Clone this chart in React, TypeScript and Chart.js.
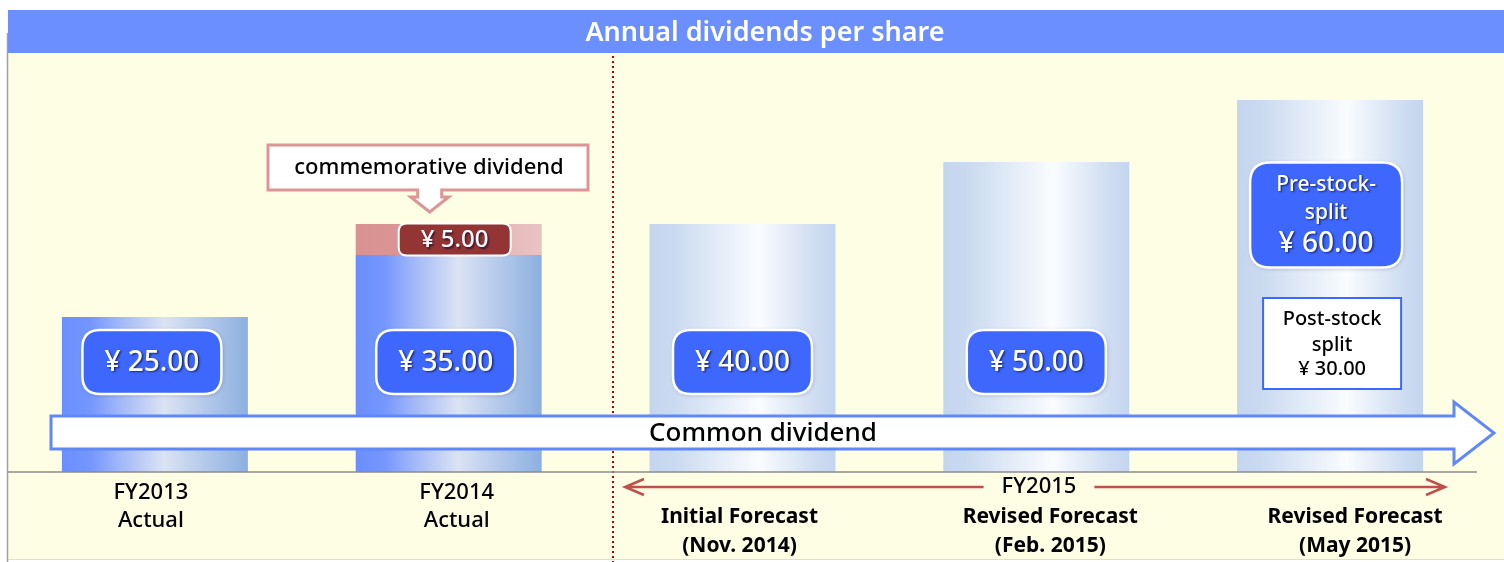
import React, { useEffect, useRef } from "react";
import { Chart, registerables } from "chart.js";

Chart.register(...registerables);

// ---------- data ----------
const categories = [
  "FY2013 Actual",
  "FY2014 Actual",
  "Initial Forecast (Nov. 2014)",
  "Revised Forecast (Feb. 2015)",
  "Revised Forecast (May 2015)",
];
const categoryLines = [
  ["FY2013", "Actual"],
  ["FY2014", "Actual"],
  ["Initial Forecast", "(Nov. 2014)"],
  ["Revised Forecast", "(Feb. 2015)"],
  ["Revised Forecast", "(May 2015)"],
];
const commonDividend = [25, 35, 40, 50, 60];
const commemorativeDividend = [0, 5, 0, 0, 0];
const postSplitDividend = [null, null, null, null, 30];
const isForecast = [false, false, true, true, true];
const chartTitle = "Annual dividends per share";
const arrowLabel = "Common dividend";
const calloutLabel = "commemorative dividend";
const periodLabel = "FY2015";
const preSplitWords = ["Pre-stock-", "split"];
const postSplitWords = ["Post-stock", "split"];

const yen = (v: number) => `¥ ${v.toFixed(2)}`;

// ---------- styles ----------
const FONT = '"Noto Sans", "Open Sans", "DejaVu Sans", sans-serif';
const BAR_PCT = 0.633;
const labelShift = [-4, 8, -3, 14, 25];

function roundRect(ctx: CanvasRenderingContext2D, x: number, y: number, w: number, h: number, r: number) {
  ctx.beginPath();
  ctx.moveTo(x + r, y);
  ctx.lineTo(x + w - r, y);
  ctx.quadraticCurveTo(x + w, y, x + w, y + r);
  ctx.lineTo(x + w, y + h - r);
  ctx.quadraticCurveTo(x + w, y + h, x + w - r, y + h);
  ctx.lineTo(x + r, y + h);
  ctx.quadraticCurveTo(x, y + h, x, y + h - r);
  ctx.lineTo(x, y + r);
  ctx.quadraticCurveTo(x, y, x + r, y);
  ctx.closePath();
}

function text(
  ctx: CanvasRenderingContext2D,
  s: string,
  x: number,
  y: number,
  font: string,
  color: string,
  shadow = false
) {
  ctx.save();
  ctx.font = font;
  ctx.fillStyle = color;
  ctx.textAlign = "center";
  ctx.textBaseline = "middle";
  if (shadow) {
    ctx.shadowColor = "rgba(0,0,40,0.6)";
    ctx.shadowOffsetX = 1.5;
    ctx.shadowOffsetY = 1.5;
    ctx.shadowBlur = 2;
  }
  ctx.fillText(s, x, y);
  ctx.restore();
}

function blueBox(ctx: CanvasRenderingContext2D, cx: number, cy: number, w: number, h: number, r: number) {
  ctx.save();
  ctx.shadowColor = "rgba(0,0,60,0.25)";
  ctx.shadowBlur = 4;
  ctx.shadowOffsetX = 1;
  ctx.shadowOffsetY = 1;
  roundRect(ctx, cx - w / 2, cy - h / 2, w, h, r);
  ctx.fillStyle = "#3e67fd";
  ctx.fill();
  ctx.shadowColor = "transparent";
  ctx.lineWidth = 2.5;
  ctx.strokeStyle = "#ffffff";
  ctx.stroke();
  ctx.restore();
}

function barWidth(chart: any) {
  const xs = chart.scales.x;
  return (xs.width / categories.length) * BAR_PCT;
}

const decorPlugin = {
  id: "decor",
  beforeDraw(chart: any) {
    const ctx: CanvasRenderingContext2D = chart.ctx;
    ctx.save();
    // background panel
    ctx.fillStyle = "#fefee4";
    ctx.fillRect(8, 53, 1496, 506);
    ctx.strokeStyle = "#e0e0d0";
    ctx.lineWidth = 1;
    ctx.beginPath();
    ctx.moveTo(8, 559.5);
    ctx.lineTo(1504, 559.5);
    ctx.stroke();
    // left border
    ctx.strokeStyle = "#a0a0a0";
    ctx.lineWidth = 1.5;
    ctx.beginPath();
    ctx.moveTo(7.5, 33);
    ctx.lineTo(7.5, 562);
    ctx.stroke();
    // title bar
    ctx.fillStyle = "#6b8ffe";
    ctx.fillRect(8, 10, 1496, 43);
    ctx.restore();
    text(ctx, chartTitle, 765, 33, `600 27px ${FONT}`, "#ffffff");
  },
  afterDatasetsDraw(chart: any) {
    const ctx: CanvasRenderingContext2D = chart.ctx;
    const xs = chart.scales.x;
    const ys = chart.scales.y;
    const base = ys.getPixelForValue(0);
    const area = chart.chartArea;

    // red dotted divider
    ctx.save();
    ctx.strokeStyle = "#c00000";
    ctx.lineWidth = 2;
    ctx.setLineDash([2, 3]);
    ctx.beginPath();
    ctx.moveTo(613, 56);
    ctx.lineTo(613, 562);
    ctx.stroke();
    ctx.restore();

    // baseline
    ctx.save();
    ctx.strokeStyle = "#8c8c8c";
    ctx.lineWidth = 1.5;
    ctx.beginPath();
    ctx.moveTo(8, base);
    ctx.lineTo(area.right, base);
    ctx.stroke();
    ctx.restore();

    // common dividend arrow
    ctx.save();
    ctx.beginPath();
    ctx.moveTo(51, 416);
    ctx.lineTo(1454, 416);
    ctx.lineTo(1454, 402);
    ctx.lineTo(1494, 433);
    ctx.lineTo(1454, 464);
    ctx.lineTo(1454, 449);
    ctx.lineTo(51, 449);
    ctx.closePath();
    ctx.fillStyle = "#ffffff";
    ctx.fill();
    ctx.lineWidth = 3;
    ctx.lineJoin = "miter";
    ctx.strokeStyle = "#6088f8";
    ctx.stroke();
    ctx.restore();
    text(ctx, arrowLabel, 763, 434, `500 26px ${FONT}`, "#000000");

    // value labels
    const labelY = 362;
    commonDividend.forEach((v, i) => {
      const cx = xs.getPixelForValue(i);
      if (i === commonDividend.length - 1 && postSplitDividend[i] != null) {
        // pre-stock-split box
        blueBox(ctx, cx - 4, 215, 152, 105, 20);
        text(ctx, preSplitWords[0], cx - 4, 185, `500 21px ${FONT}`, "#ffffff", true);
        text(ctx, preSplitWords[1], cx - 4, 213, `500 21px ${FONT}`, "#ffffff", true);
        text(ctx, yen(v), cx - 4, 244, `500 28px ${FONT}`, "#ffffff", true);
        // post-stock-split box
        ctx.save();
        ctx.fillStyle = "#ffffff";
        ctx.fillRect(cx - 67, 298, 138, 91);
        ctx.strokeStyle = "#3e67fd";
        ctx.lineWidth = 2;
        ctx.strokeRect(cx - 67, 298, 138, 91);
        ctx.restore();
        text(ctx, postSplitWords[0], cx + 2, 319, `500 20px ${FONT}`, "#000000");
        text(ctx, postSplitWords[1], cx + 2, 345, `500 20px ${FONT}`, "#000000");
        text(ctx, yen(postSplitDividend[i] as number), cx + 2, 369, `500 20px ${FONT}`, "#000000");
      } else {
        const bx = cx - (i < 2 ? 3 : 0);
        blueBox(ctx, bx, labelY, 139, 64, 18);
        text(ctx, yen(v), bx, labelY + 1, `500 28px ${FONT}`, "#ffffff", true);
      }
    });

    // commemorative label + callout
    commemorativeDividend.forEach((v, i) => {
      if (!v) return;
      const cx = xs.getPixelForValue(i);
      const top = ys.getPixelForValue(commonDividend[i] + v);
      const mid = ys.getPixelForValue(commonDividend[i] + v / 2);
      ctx.save();
      roundRect(ctx, cx - 50, mid - 16, 112, 32, 8);
      ctx.fillStyle = "#943535";
      ctx.fill();
      ctx.lineWidth = 2;
      ctx.strokeStyle = "#ffffff";
      ctx.stroke();
      ctx.restore();
      text(ctx, yen(v), cx + 6, mid + 1, `500 24px ${FONT}`, "#ffffff", true);

      // callout box with down arrow
      const tipX = cx - 19;
      const tipY = top - 12;
      ctx.save();
      ctx.beginPath();
      ctx.moveTo(268, 145);
      ctx.lineTo(588, 145);
      ctx.lineTo(588, 190);
      ctx.lineTo(tipX + 12, 190);
      ctx.lineTo(tipX + 12, 197);
      ctx.lineTo(tipX + 19, 197);
      ctx.lineTo(tipX, tipY);
      ctx.lineTo(tipX - 19, 197);
      ctx.lineTo(tipX - 12, 197);
      ctx.lineTo(tipX - 12, 190);
      ctx.lineTo(268, 190);
      ctx.closePath();
      ctx.fillStyle = "#ffffff";
      ctx.fill();
      ctx.lineWidth = 3;
      ctx.strokeStyle = "#dc9696";
      ctx.stroke();
      ctx.restore();
      text(ctx, calloutLabel, 429, 168, `500 22px ${FONT}`, "#000000");
    });

    // FY2015 period arrow
    const py = 487;
    const left = 625;
    const right = 1445;
    ctx.save();
    ctx.font = `500 22px ${FONT}`;
    const tw = ctx.measureText(periodLabel).width;
    const tcx = 1039;
    ctx.strokeStyle = "#c0504d";
    ctx.lineWidth = 2.5;
    ctx.beginPath();
    ctx.moveTo(left, py);
    ctx.lineTo(tcx - tw / 2 - 18, py);
    ctx.moveTo(tcx + tw / 2 + 18, py);
    ctx.lineTo(right, py);
    ctx.moveTo(left + 19, py - 8);
    ctx.lineTo(left, py);
    ctx.lineTo(left + 19, py + 8);
    ctx.moveTo(right - 19, py - 8);
    ctx.lineTo(right, py);
    ctx.lineTo(right - 19, py + 8);
    ctx.stroke();
    ctx.restore();
    text(ctx, periodLabel, tcx, py, `500 22px ${FONT}`, "#000000");

    // category labels
    categoryLines.forEach((lines, i) => {
      const cx = xs.getPixelForValue(i) + labelShift[i];
      if (isForecast[i]) {
        text(ctx, lines[0], cx, 517, `bold 21px ${FONT}`, "#000000");
        text(ctx, lines[1], cx, 546, `bold 21px ${FONT}`, "#000000");
      } else {
        text(ctx, lines[0], cx, 493, `500 22px ${FONT}`, "#000000");
        text(ctx, lines[1], cx, 521, `500 22px ${FONT}`, "#000000");
      }
    });
  },
};

function mainFill(c: any) {
  const chart = c.chart;
  if (!chart.chartArea || !chart.scales.x) return "#8aa8f0";
  const cx = chart.scales.x.getPixelForValue(c.dataIndex);
  const w = barWidth(chart);
  const g = chart.ctx.createLinearGradient(cx - w / 2, 0, cx + w / 2, 0);
  if (isForecast[c.dataIndex]) {
    g.addColorStop(0, "#c4d5ee");
    g.addColorStop(0.12, "#c9d9f0");
    g.addColorStop(0.59, "#fafcff");
    g.addColorStop(0.9, "#cddcf1");
    g.addColorStop(1, "#c4d5ee");
  } else {
    g.addColorStop(0, "#6a8ffd");
    g.addColorStop(0.15, "#7496fd");
    g.addColorStop(0.32, "#a3b9f8");
    g.addColorStop(0.55, "#dbe3f3");
    g.addColorStop(0.78, "#b2c8ea");
    g.addColorStop(1, "#8db0e0");
  }
  return g;
}

function extraFill(c: any) {
  const chart = c.chart;
  if (!chart.chartArea || !chart.scales.x) return "#dc9999";
  const cx = chart.scales.x.getPixelForValue(c.dataIndex);
  const w = barWidth(chart);
  const g = chart.ctx.createLinearGradient(cx - w / 2, 0, cx + w / 2, 0);
  g.addColorStop(0, "#d99292");
  g.addColorStop(0.3, "#da9595");
  g.addColorStop(0.6, "#e2adad");
  g.addColorStop(1, "#e9c3c3");
  return g;
}

export default function App() {
  const ref = useRef<HTMLCanvasElement>(null);
  useEffect(() => {
    if (!ref.current) return;
    const chart = new Chart(ref.current, {
      type: "bar",
      data: {
        labels: categories,
        datasets: [
          {
            label: "Common dividend",
            data: commonDividend,
            backgroundColor: mainFill as any,
            borderWidth: 0,
            barPercentage: BAR_PCT,
            categoryPercentage: 1,
            stack: "s",
          },
          {
            label: "Commemorative dividend",
            data: commemorativeDividend,
            backgroundColor: extraFill as any,
            borderWidth: 0,
            barPercentage: BAR_PCT,
            categoryPercentage: 1,
            stack: "s",
          },
        ],
      },
      options: {
        animation: false,
        responsive: false,
        devicePixelRatio: 1,
        layout: { padding: { left: 8, right: 27, top: 100, bottom: 90 } },
        scales: {
          x: { display: false, stacked: true },
          y: { display: false, stacked: true, min: 0, max: 60 },
        },
        plugins: {
          legend: { display: false },
          tooltip: { enabled: false },
          title: { display: false },
        },
      },
      plugins: [decorPlugin],
    });
    return () => chart.destroy();
  }, []);
  return (
    <div style={{ position: "absolute", left: 0, top: 0, width: 1504, height: 562, background: "#ffffff" }}>
      <canvas ref={ref} width={1504} height={562} style={{ display: "block", width: 1504, height: 562 }} />
    </div>
  );
}
